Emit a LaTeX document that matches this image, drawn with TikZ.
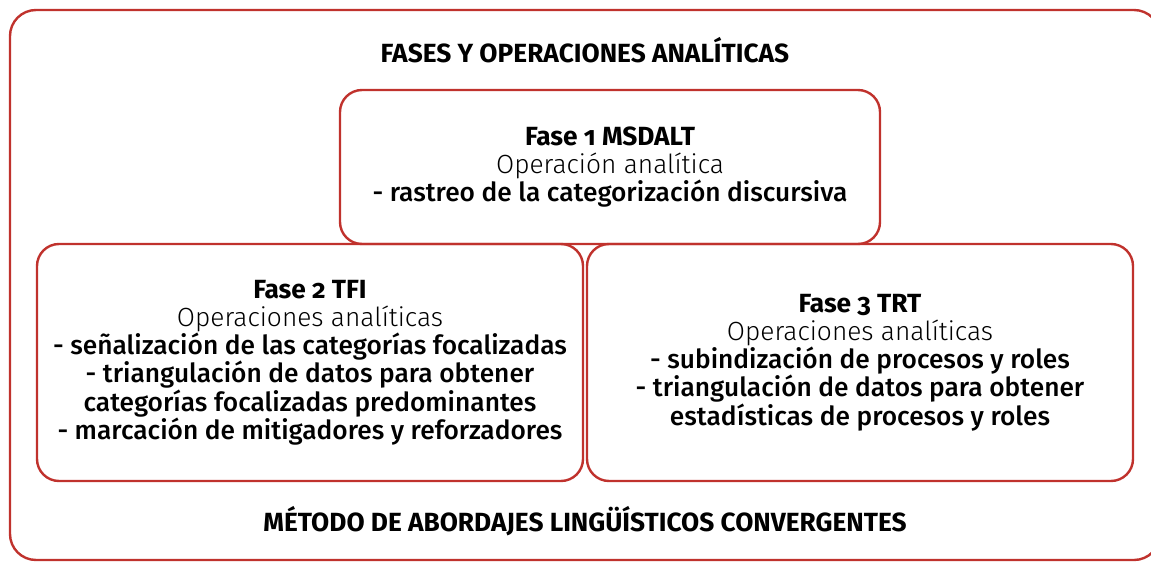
\documentclass[tikz,border=0pt]{standalone}
\usepackage{fontspec}
\setmainfont{Fira Sans}[Numbers=OldStyle]
\newfontfamily\lightfont{Fira Sans Light}[Numbers=OldStyle]
\newfontfamily\mediumfont{Fira Sans Medium}[Numbers=OldStyle]
\definecolor{faserot}{RGB}{192,50,45}
\begin{document}
\begin{tikzpicture}[x=1pt,y=-1pt,
	rahmen/.style={draw=faserot,line width=2.4pt,rounded corners=22pt,inner sep=0pt},
	fasebox/.style={rahmen,minimum width=546pt,minimum height=237pt},
	schrift/.style={align=center,font=\fontsize{26.3}{28.2}\selectfont}]
	\useasboundingbox (0,0) rectangle (1151,567);
	
	% aeusserer rahmen
	\node[rahmen,rounded corners=26pt,minimum width=1150pt,minimum height=550pt] (aussen) at (585,285) {};
	\node[schrift] (titel) at (585,50) {\textbf{FASES Y OPERACIONES ANALÍTICAS}};
	\node[schrift] (methode) at (585,521) {\textbf{MÉTODO DE ABORDAJES LINGÜÍSTICOS CONVERGENTES}};
	
	% fase 1
	\node[rahmen,schrift,minimum width=540pt,minimum height=154pt] (fase1) at (610,167)
		{\textbf{Fase 1 MSDALT}\\ {\lightfont Operación analítica}\\ {\mediumfont - rastreo de la categorización discursiva}};
	
	% fase 2 und fase 3
	\node[fasebox,schrift] (fase2) at (310,362.5)
		{\textbf{Fase 2 TFI}\\ {\lightfont Operaciones analíticas}\\
		{\mediumfont - señalización de las categorías focalizadas}\\
		{\mediumfont - triangulación de datos para obtener}\\
		{\mediumfont categorías focalizadas predominantes}\\
		{\mediumfont - marcación de mitigadores y reforzadores}};
	\node[fasebox,schrift] (fase3) at (860,362.5)
		{\textbf{Fase 3 TRT}\\ {\lightfont Operaciones analíticas}\\
		{\mediumfont - subindización de procesos y roles}\\
		{\mediumfont - triangulación de datos para obtener}\\
		{\mediumfont estadísticas de procesos y roles}};
\end{tikzpicture}
\end{document}
